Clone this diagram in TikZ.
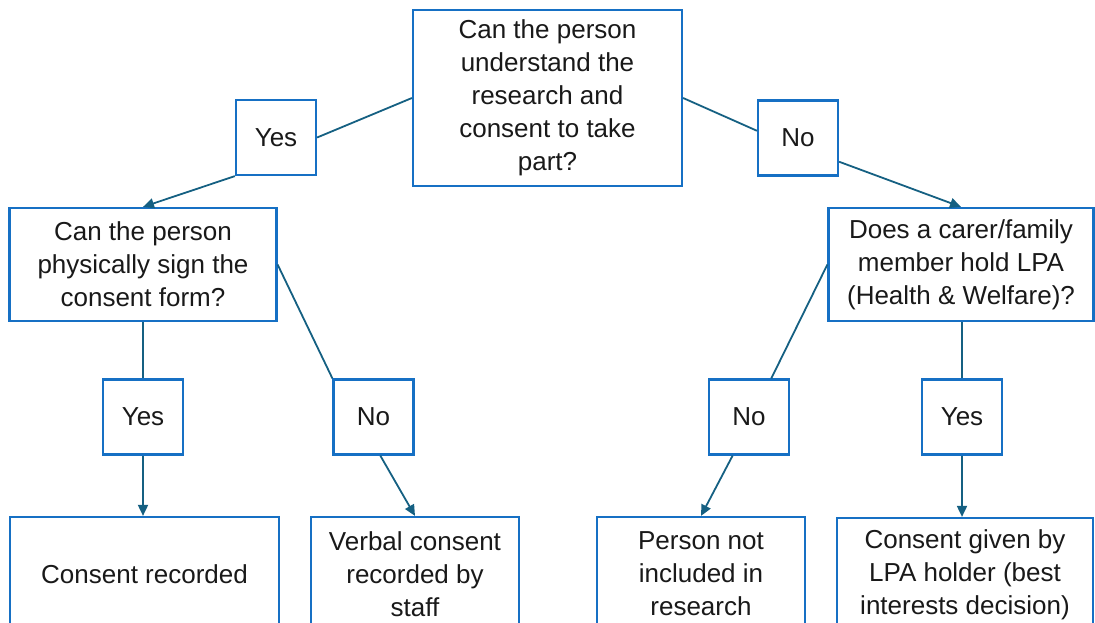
\documentclass[tikz,border=0pt]{standalone}
\usepackage{fontspec}
\setmainfont{Liberation Sans}
\definecolor{boxblue}{HTML}{1670C4}
\definecolor{linkblue}{HTML}{156082}
\usetikzlibrary{arrows.meta}
\usetikzlibrary{calc}
\tikzset{
	box/.style={draw=boxblue,line width=2.2pt,fill=white,rectangle,align=center,inner sep=0pt,
		font=\fontsize{26}{33}\selectfont,text=black!90},
	answer/.style={box,minimum width=80pt,minimum height=75pt},
	link/.style={draw=linkblue,line width=1.8pt},
	linkarrow/.style={link,-{Triangle[length=11pt,width=10pt]}}
}
\begin{document}
\begin{tikzpicture}[x=1pt,y=-1pt]
				\useasboundingbox (0,0) rectangle (1095,622);
				\clip (0,0) rectangle (1095,622);
				\node[box,minimum width=269pt,minimum height=176pt] (UNDERSTAND) at (547.5,98) {Can the person\\understand the\\research and\\consent to take\\part?};
				\node[answer] (YES_TOP) at (276,137.5) {Yes};
				\node[answer] (NO_TOP) at (798,138) {No};
				\node[box,minimum width=267pt,minimum height=113pt] (SIGN) at (143,264.5) {Can the person\\physically sign the\\consent form?};
				\node[box,minimum width=265pt,minimum height=113pt] (LPA) at (961,264.5) {Does a carer/family\\member hold LPA\\(Health \& Welfare)?};
				\node[answer] (YES_SIGN) at (143,417) {Yes};
				\node[answer] (NO_SIGN) at (373.5,417) {No};
				\node[answer] (NO_LPA) at (749,417) {No};
				\node[answer] (YES_LPA) at (962,417) {Yes};
				\node[box,minimum width=269pt,minimum height=114pt] (RECORDED) at (144.5,574) {Consent recorded};
				\node[box,minimum width=208pt,minimum height=114pt] (VERBAL) at (415,574) {Verbal consent\\recorded by\\staff};
				\node[box,minimum width=208pt,minimum height=114pt] (EXCLUDED) at (701,574) {Person not\\included in\\research};
				\node[box,minimum width=256pt,minimum height=114pt] (LPA_HOLDER) at (965,575) {Consent given by\\LPA holder (best\\interests decision)};
				% first question
				\draw[link] (UNDERSTAND.west) -- (YES_TOP.east);
				\draw[linkarrow] (YES_TOP.south west) -- (SIGN.north);
				\draw[link] (UNDERSTAND.east) -- (NO_TOP.170);
				\draw[linkarrow] (NO_TOP.-30) -- (LPA.north);
				% signing
				\draw[link] (SIGN.south) -- (YES_SIGN.north);
				\draw[linkarrow] (YES_SIGN.south) -- (YES_SIGN.south |- RECORDED.north);
				\draw[link] (SIGN.east) -- (NO_SIGN.north west);
				\draw[linkarrow] (NO_SIGN.-80) -- (VERBAL.north);
				% LPA
				\draw[link] (LPA.west) -- (NO_LPA.60);
				\draw[linkarrow] (NO_LPA.-113) -- (EXCLUDED.north);
				\draw[link] (LPA.south -| YES_LPA.north) -- (YES_LPA.north);
				\draw[linkarrow] (YES_LPA.south) -- (YES_LPA.south |- LPA_HOLDER.north);
			\end{tikzpicture}
\end{document}
